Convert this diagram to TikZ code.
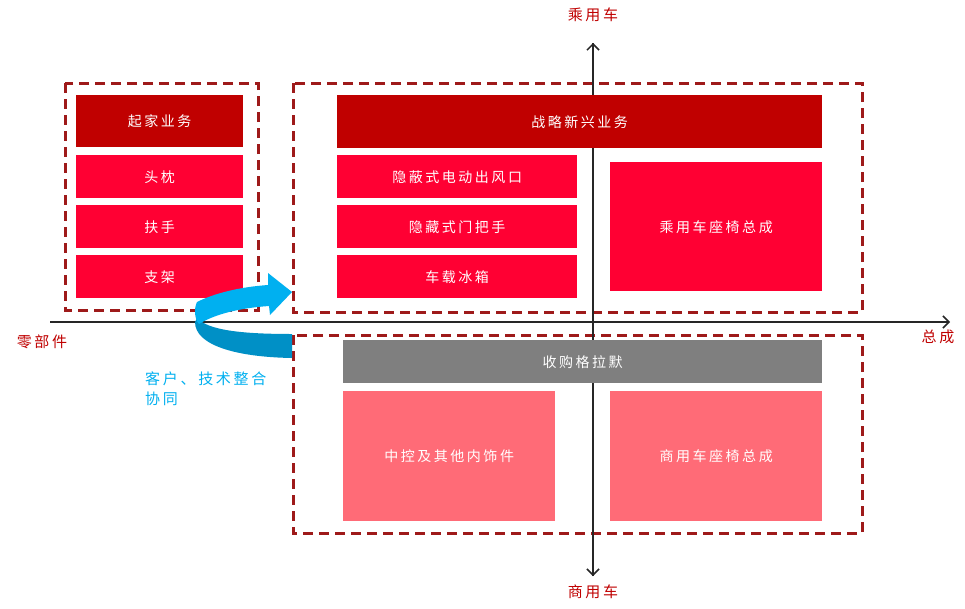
\documentclass[tikz,border=0pt]{standalone}
\usepackage{fontspec}
\newfontfamily\cjk[LetterSpace=18]{Noto Sans CJK SC}
\usetikzlibrary{arrows.meta}
\definecolor{cdark}{HTML}{C00000}
\definecolor{cred}{HTML}{FF0033}
\definecolor{cpink}{HTML}{FF6B77}
\definecolor{cgray}{HTML}{7F7F7F}
\definecolor{cdash}{HTML}{9E1A1A}
\definecolor{clblue}{HTML}{00B0F0}
\definecolor{cdblue}{HTML}{0090C6}
\tikzset{
  bx/.style={draw=none, anchor=north west, inner sep=0pt, text=white, font=\cjk\fontsize{14}{16}\selectfont},
  dbox/.style={draw=cdash, line width=3pt, dash pattern=on 10pt off 6pt},
  axis/.style={draw=black!85, line width=1.5pt, -{Straight Barb[length=6pt,width=12pt,line width=1.5pt]}},
  axlab/.style={text=cdark, font=\cjk\fontsize{15}{17}\selectfont, inner sep=0pt},
  bluelab/.style={text=clblue, font=\cjk\fontsize{15}{20}\selectfont, inner sep=0pt, anchor=north west, align=left}
}
\begin{document}
\begin{tikzpicture}[x=1pt,y=-1pt]
\useasboundingbox[fill=white] (0,0) rectangle (965,608);
% dashed groups
\draw[dbox] (65,83) rectangle (258,310);
\draw[dbox] (293,83) rectangle (862,312);
\draw[dbox] (293,335) rectangle (862,533);
% axes
\coordinate (hl) at (50,322);
\coordinate (hr) at (950,322);
\coordinate (vt) at (593,43);
\coordinate (vb) at (593,576);
\draw[axis] (hl) -- (hr);
\draw[axis] (vb) -- (vt);
\draw[axis] (vt) -- (vb);
% left boxes
\node[bx, fill=cdark, minimum width=167pt, minimum height=52pt] (qj) at (76,95) {起家业务};
\node[bx, fill=cred, minimum width=167pt, minimum height=43pt] (tz) at (76,155) {头枕};
\node[bx, fill=cred, minimum width=167pt, minimum height=43pt] (fs) at (76,205) {扶手};
\node[bx, fill=cred, minimum width=167pt, minimum height=43pt] (zj) at (76,255) {支架};
% upper right
\node[bx, fill=cdark, minimum width=485pt, minimum height=53pt] (zl) at (337,95) {战略新兴业务};
\node[bx, fill=cred, minimum width=240pt, minimum height=43pt] (cf) at (337,155) {隐蔽式电动出风口};
\node[bx, fill=cred, minimum width=240pt, minimum height=43pt] (mb) at (337,205) {隐藏式门把手};
\node[bx, fill=cred, minimum width=240pt, minimum height=43pt] (bx) at (337,255) {车载冰箱};
\node[bx, fill=cred, minimum width=212pt, minimum height=129pt] (cy) at (610,162) {乘用车座椅总成};
% lower
\node[bx, fill=cgray, minimum width=479pt, minimum height=43pt] (sg) at (343,340) {收购格拉默};
\node[bx, fill=cpink, minimum width=212pt, minimum height=130pt] (zk) at (343,391) {中控及其他内饰件};
\node[bx, fill=cpink, minimum width=212pt, minimum height=130pt] (sy) at (610,391) {商用车座椅总成};
% axis labels
\node[axlab] (lt) at (593,15) {乘用车};
\node[axlab] (lb) at (593,592) {商用车};
\node[axlab] (ll) at (42,342) {零部件};
\node[axlab] (lr) at (938,337) {总成};
% blue curved arrow
\fill[cdblue] (292,334) .. controls (240,334) and (208,330) .. (197,318)
  -- (195,322) .. controls (195,345) and (235,357) .. (292,358) -- cycle;
\fill[clblue] (197,302) .. controls (215,293) and (240,287) .. (268,285)
  -- (268,273) -- (292,292) -- (270,315) -- (269,306)
  .. controls (240,308) and (215,314) .. (199,324)
  .. controls (194,318) and (194,308) .. (197,302) -- cycle;
\node[bluelab] (bt) at (145,372) {客户、技术整合\\协同};
\end{tikzpicture}
\end{document}
